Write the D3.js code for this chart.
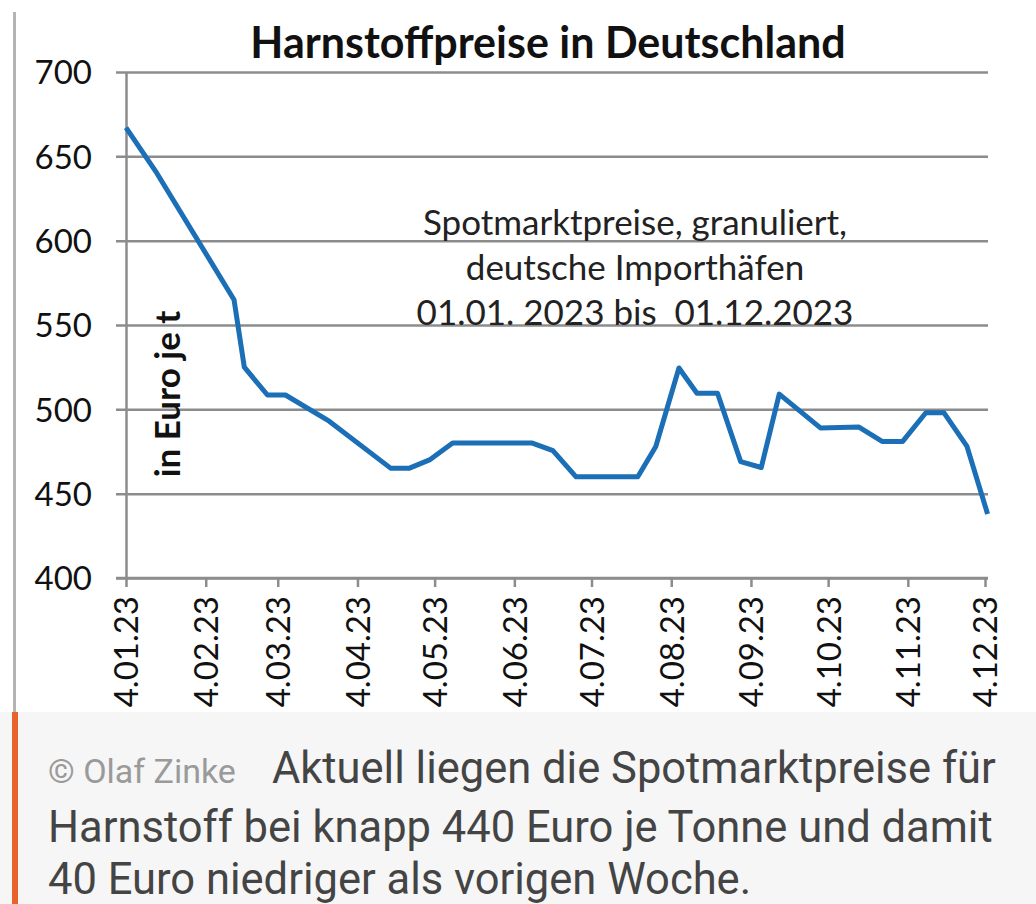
<!DOCTYPE html>
<html>
<head>
<meta charset="utf-8">
<script src="https://cdn.jsdelivr.net/npm/d3@7"></script>
<style>
  body { margin: 0; background: #fff; }
  svg { display: block; }
</style>
</head>
<body>
<div id="chart"></div>
<script>
// Harnstoff spot prices (EUR/t)
var dates = ["2023-01-04", "2023-01-16", "2023-02-15", "2023-02-19", "2023-02-28",
	"2023-03-07", "2023-03-24", "2023-04-17", "2023-04-24", "2023-05-02",
	"2023-05-11", "2023-06-11", "2023-06-19", "2023-06-28", "2023-07-22",
	"2023-07-29", "2023-08-07", "2023-08-14", "2023-08-22", "2023-08-31",
	"2023-09-08", "2023-09-15", "2023-10-01", "2023-10-16", "2023-10-25",
	"2023-11-02", "2023-11-11", "2023-11-18", "2023-11-27", "2023-12-05"];
var prices = [667, 640, 565, 525, 508.5,
	508.5, 493, 465, 465, 470,
	480, 480, 475.5, 460, 460,
	478, 524.5, 509.5, 509.5, 469,
	465.5, 509, 489, 489.5, 481,
	481, 498, 498, 478, 438];
var yTicks = [400, 450, 500, 550, 600, 650, 700];
var xTicks = ["2023-01-04", "2023-02-04", "2023-03-04", "2023-04-04", "2023-05-04",
	"2023-06-04", "2023-07-04", "2023-08-04", "2023-09-04", "2023-10-04",
	"2023-11-04", "2023-12-04"];
var noteLines = ["Spotmarktpreise, granuliert,", "deutsche Importhäfen", "01.01. 2023 bis  01.12.2023"];
var captionLines = ["Harnstoff bei knapp 440 Euro je Tonne und damit", "40 Euro niedriger als vorigen Woche."];

var W = 1036, H = 904;
var parse = d3.timeParse("%Y-%m-%d");
var fmt = d3.timeFormat("%-d.%m.%y");

var svg = d3.select("#chart").append("svg").attr("width", W).attr("height", H);

// caption panel + side bars
svg.append("rect").attr("x", 0).attr("y", 712).attr("width", W).attr("height", H - 712)
	.attr("fill", "#f6f6f6");
svg.append("rect").attr("x", 13).attr("y", 12).attr("width", 3).attr("height", 700)
	.attr("fill", "#b4b4b4");
svg.append("rect").attr("x", 12).attr("y", 712).attr("width", 6).attr("height", H - 712)
	.attr("fill", "#e8622c");

var xScale = d3.scaleTime().domain([parse("2023-01-04"), parse("2023-12-04")]).range([126, 985]);
var yScale = d3.scaleLinear().domain([400, 700]).range([578, 72]);

// horizontal grid with left tick stubs
var yAxis = d3.axisLeft(yScale).tickValues(yTicks).tickSize(0).tickPadding(34);
var gY = svg.append("g").attr("transform", "translate(126,0)").call(yAxis);
gY.select(".domain").attr("stroke", "#8c8c8c").attr("stroke-width", 2.5);
gY.selectAll(".tick line").attr("x1", -10).attr("x2", 862)
	.attr("stroke", "#8c8c8c").attr("stroke-width", 2.5);
gY.selectAll(".tick text").style("font-family", "Lato").style("font-size", "33px")
	.attr("fill", "#111").attr("dy", "0.36em");

var xAxis = d3.axisBottom(xScale).tickValues(xTicks.map(parse)).tickFormat(fmt)
	.tickSize(9).tickSizeOuter(0);
var gX = svg.append("g").attr("transform", "translate(0,578)").call(xAxis);
gX.select(".domain").attr("stroke", "#8c8c8c").attr("stroke-width", 2.5)
	.attr("d", "M" + 116 + ",0H" + 988);
gX.selectAll(".tick line").attr("stroke", "#8c8c8c").attr("stroke-width", 2.5);
gX.selectAll(".tick text").style("font-family", "Lato").style("font-size", "33px")
	.attr("fill", "#111").attr("text-anchor", "end")
	.attr("transform", "rotate(-90)").attr("x", -18).attr("y", 0).attr("dy", "0.36em");

// the price line
var data = dates.map(function(d, i) { return { date: parse(d), value: prices[i] }; });
var lineGen = d3.line().x(function(d) { return xScale(d.date); })
	.y(function(d) { return yScale(d.value); });
svg.append("path").attr("d", lineGen(data)).attr("fill", "none")
	.attr("stroke", "#1b6fb6").attr("stroke-width", 5).attr("stroke-linejoin", "round");

// title, unit, note
svg.append("text").attr("x", 548).attr("y", 58).attr("text-anchor", "middle")
	.style("font-family", "Lato").style("font-weight", "bold").style("font-size", "43px")
	.attr("fill", "#111").text("Harnstoffpreise in Deutschland");

svg.append("text").attr("transform", "translate(180,394) rotate(-90)")
	.attr("text-anchor", "middle").style("font-family", "Lato").style("font-weight", "bold")
	.style("font-size", "35px").attr("fill", "#111").text("in Euro je t");

svg.append("g").selectAll("text").data(noteLines).enter().append("text")
	.attr("x", 635).attr("y", function(d, i) { return 235 + i * 45; })
	.attr("text-anchor", "middle").style("font-family", "Lato").style("font-size", "35px")
	.style("white-space", "pre").attr("fill", "#222").text(function(d) { return d; });

// caption below the chart
var cap = svg.append("text").attr("x", 48).attr("y", 783).style("font-family", "Roboto");
cap.append("tspan").attr("fill", "#9a9a9a").style("font-size", "34px").text("© Olaf Zinke");
cap.append("tspan").attr("dx", 36).attr("fill", "#444").style("font-size", "43.5px")
	.text("Aktuell liegen die Spotmarktpreise für");
svg.append("g").selectAll("text").data(captionLines).enter().append("text")
	.attr("x", 48).attr("y", function(d, i) { return 842 + i * 52; })
	.style("font-family", "Roboto").style("font-size", "43.5px").attr("fill", "#444")
	.text(function(d) { return d; });
</script>
</body>
</html>
